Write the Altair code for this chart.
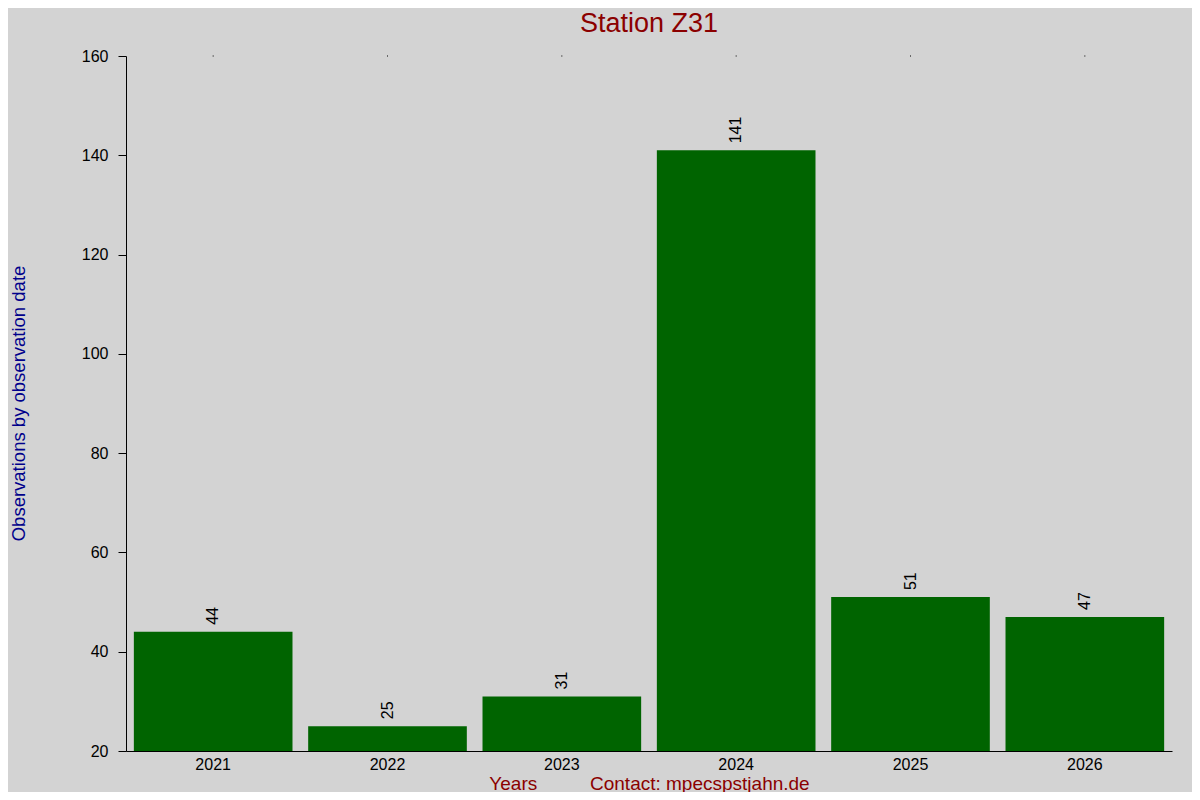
import altair as alt
import pandas as pd

years = ["2021", "2022", "2023", "2024", "2025", "2026"]
counts = [44, 25, 31, 141, 51, 47]

df = pd.DataFrame({"year": years, "count": counts})
FONT = "Liberation Sans"
NB = "\u00a0"

x_enc = alt.X("year:N", sort=years,
              scale=alt.Scale(paddingInner=0.09, paddingOuter=0.045),
              axis=alt.Axis(title="Years" + NB * 10 + "Contact: mpecspstjahn.de",
                            labelAngle=0, ticks=False, labelPadding=5,
                            labelFontSize=16, labelColor="black", labelFont=FONT,
                            domainColor="black", titleColor="#8b0000",
                            titleFontSize=19, titleFont=FONT, titleFontWeight="normal",
                            titleY=32, titleBaseline="middle"))
y_enc = alt.Y("count:Q", scale=alt.Scale(domain=[20, 160], clamp=True),
              axis=alt.Axis(title="Observations by observation date",
                            values=[20, 40, 60, 80, 100, 120, 140, 160],
                            grid=False, tickSize=8, tickColor="black",
                            domainColor="black", labelPadding=10,
                            labelFontSize=16, labelColor="black", labelFont=FONT,
                            titleColor="#00008b", titleFontSize=18.5, titleFont=FONT,
                            titleFontWeight="normal", titleX=-108, titleY=347,
                            titleAngle=-90, titleAlign="center",
                            titleBaseline="middle"))

bars = alt.Chart(df).mark_bar(color="#006400").encode(
    x=x_enc, y=y_enc, y2=alt.datum(20))

labels = alt.Chart(df).mark_text(angle=270, align="left", baseline="middle",
                                 dx=7, fontSize=16, font=FONT, color="black").encode(
    x=alt.X("year:N", sort=years), y="count:Q", text="count:Q")

dots = alt.Chart(df).mark_square(size=1, color="black", opacity=1).encode(
    x=alt.X("year:N", sort=years), y=alt.datum(160))

chart = alt.layer(bars, labels, dots).properties(
    width=1046, height=695,
    title=alt.TitleParams("Station Z31", fontSize=27, font=FONT, color="#8b0000",
                          fontWeight="normal", offset=10, anchor="middle"),
    autosize=alt.AutoSizeParams(type="none"),
    padding={"left": 118, "top": 48, "right": 20, "bottom": 41},
    background="#d3d3d3",
).configure_view(stroke=None)

chart.save("out.html", embed_options={"renderer": "svg", "actions": False})
